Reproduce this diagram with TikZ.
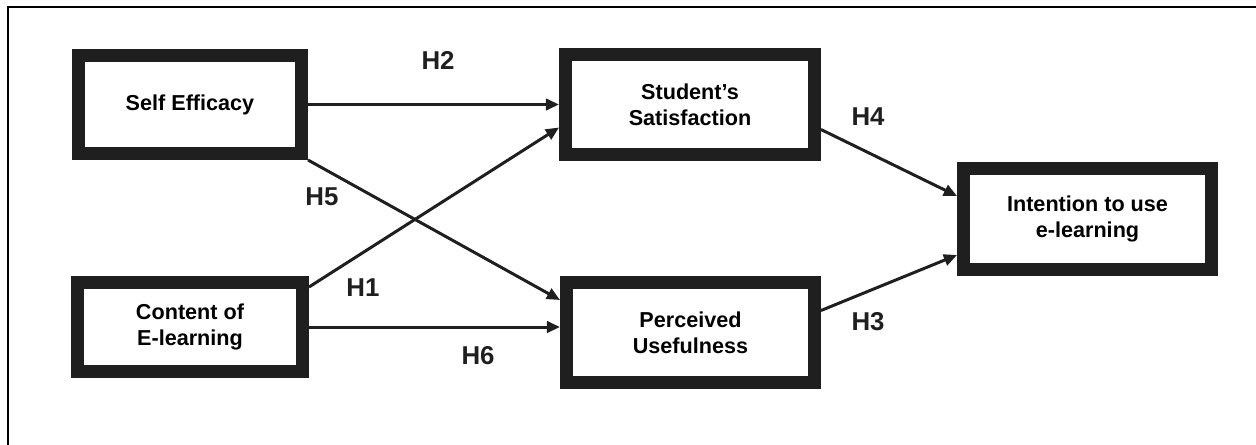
\documentclass[tikz,border=0pt]{standalone}
\usepackage{fontspec}
\setmainfont{Liberation Sans}
\usetikzlibrary{arrows.meta, calc}
\tikzset{
  construct/.style = {rectangle, draw=black!88, line width=7.4pt, align=center, inner sep=0pt, font=\fontsize{12.3}{14.8}\selectfont\bfseries},
  link/.style = {line width=1.7pt, draw=black!88, -{Triangle[length=7.5pt,width=6.5pt]}},
  hyp/.style = {font=\fontsize{14.7}{17}\selectfont\bfseries, text=black!88, inner sep=0pt}
}

\begin{document}
\begin{tikzpicture}[x=0.02cm, y=-0.02cm]

  \useasboundingbox (0,0) rectangle (1256,444);

  % Outer frame
  \draw[line width=1.1pt] (8,470) |- (1280,7);

  % Constructs
  \node (self) [construct, minimum width=4.46cm, minimum height=1.96cm] at (190,104.5) {Self Efficacy};
  \node (content) [construct, minimum width=4.5cm, minimum height=1.78cm] at (190,327) {Content of\\E-learning};
  \node (student) [construct, minimum width=4.98cm, minimum height=2cm] at (690,104.5) {Student’s\\Satisfaction};
  \node (perceived) [construct, minimum width=4.96cm, minimum height=2cm] at (690.5,332.5) {Perceived\\Usefulness};
  \node (intention) [construct, minimum width=4.96cm, minimum height=2.02cm] at (1087.5,219) {Intention to use\\e-learning};

  % Hypothesis labels
  \node (h2) [hyp] at (438,60) {H2};
  \node (h5) [hyp] at (322,197) {H5};
  \node (h1) [hyp] at (363,288) {H1};
  \node (h6) [hyp] at (478,356) {H6};
  \node (h4) [hyp] at (868,117) {H4};
  \node (h3) [hyp] at (868,322) {H3};

  % Paths
  \draw[link] (self.east) -- (student.west);
  \draw[link] (self.south east) -- ($(perceived.north west)+(0,24)$);
  \draw[link] ($(content.north east)+(0,11)$) -- ($(student.west)+(0,23)$);
  \draw[link] (content.east) -- (content.east -| perceived.west);
  \draw[link] ($(student.east)+(0,25)$) -- ($(intention.west)+(0,-23)$);
  \draw[link] ($(perceived.east)+(0,-22)$) -- ($(intention.west)+(0,36)$);

\end{tikzpicture}
\end{document}
